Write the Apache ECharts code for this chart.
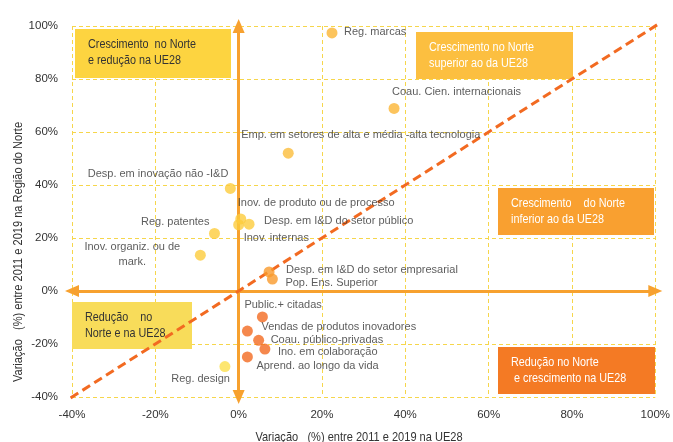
<!DOCTYPE html>
<html>
<head>
<meta charset="utf-8">
<script src="https://cdn.jsdelivr.net/npm/echarts@6/dist/echarts.min.js"></script>
<style>
  html, body { margin: 0; padding: 0; background: #fff; }
  #main { width: 673px; height: 442px; }
</style>
</head>
<body>
<div id="main"></div>
<script>
// dados (variação % 2011-2019)
const names = [
  'Reg. marcas', 'Coau. Cien. internacionais', 'Emp. em setores de alta e média -alta tecnologia',
  'Desp. em inovação não -I&D', 'Inov. de produto ou de processo', 'Inov. internas',
  'Desp. em I&D do setor público', 'Reg. patentes', 'Inov. organiz. ou de\nmark.',
  'Desp. em I&D do setor empresarial', 'Pop. Ens. Superior', 'Public.+ citadas',
  'Vendas de produtos inovadores', 'Coau. público-privadas', 'Ino. em colaboração',
  'Aprend. ao longo da vida', 'Reg. design'
];
const ue28 = [22.4, 37.3, 11.9, -2.0, 0.5, 0.0, 2.5, -5.8, -9.2, 7.3, 8.1, 5.7, 2.1, 4.8, 6.3, 2.1, -3.3];
const norte = [97.4, 68.9, 52.0, 38.7, 27.2, 25.0, 25.2, 21.7, 13.5, 7.2, 4.5, -9.8, -15.1, -18.6, -21.9, -24.9, -28.5];
const xTicks = [-40, -20, 0, 20, 40, 60, 80, 100];
const yTicks = [-40, -20, 0, 20, 40, 60, 80, 100];
const diagonal = [-46, 103];

// estilo de cada ponto
const cores = ['#fbb535', '#fbb535', '#fbbd3b', '#fdcc3c', '#fdcc3c', '#fdcc3c', '#fdcc3c', '#fdcc3c', '#fdcc3c',
  '#f99a2c', '#f99a2c', '#f26a21', '#f26a21', '#f26a21', '#f26a21', '#f26a21', '#fde04c'];
// [dx, dy, align] do rótulo em relação ao ponto
const rotulos = [
  [12, -1, 'left'], [-2, -16, 'left'], [-47, -18, 'left'], [-2, -14, 'right'], [-3, -16, 'left'],
  [5, 13, 'left'], [15, -3, 'left'], [-5, -12, 'right'], [-68, -1, 'center'], [17, -2, 'left'],
  [13, 4, 'left'], [-18, -12, 'left'], [14, -4, 'left'], [12, 0, 'left'], [13, 3, 'left'],
  [9, 9, 'left'], [5, 12, 'right']
];

const fonte = '"Liberation Sans", Arial, sans-serif';
const gridCor = '#f6d64b';

const pontos = names.map((n, i) => ({
  name: n,
  value: [ue28[i], norte[i]],
  itemStyle: { color: cores[i] },
  label: {
    show: true,
    position: 'inside',
    formatter: n,
    align: rotulos[i][2],
    verticalAlign: 'middle',
    offset: [rotulos[i][0], rotulos[i][1]],
    color: '#333',
    fontSize: 11,
    fontFamily: fonte,
    lineHeight: 15
  }
}));

function caixa(x, y, w, h, cor, texto, corTexto) {
  return [
    { type: 'rect', left: x, top: y, shape: { width: w, height: h }, style: { fill: cor }, z: 50 },
    { type: 'text', x: x + 13, y: y + 7, scaleX: 0.8, z: 51,
      style: { text: texto, fill: corTexto, font: '13.5px ' + fonte, lineHeight: 16.5 } }
  ];
}

const chart = echarts.init(document.getElementById('main'));
chart.setOption({
  animation: false,
  grid: { left: 72, right: 15, top: 26, bottom: 45 },
  xAxis: {
    type: 'value', min: xTicks[0], max: xTicks[xTicks.length - 1], interval: 20,
    axisLine: { show: false }, axisTick: { show: false },
    axisLabel: { formatter: '{value}%', color: '#333', fontSize: 11.5, fontFamily: fonte, margin: 12 },
    splitLine: { show: true, lineStyle: { color: gridCor, type: [4, 3], width: 1 } }
  },
  yAxis: {
    type: 'value', min: yTicks[0], max: yTicks[yTicks.length - 1], interval: 20,
    axisLine: { show: false }, axisTick: { show: false },
    axisLabel: { formatter: '{value}%', color: '#333', fontSize: 11.5, fontFamily: fonte, margin: 14 },
    splitLine: { show: true, lineStyle: { color: gridCor, type: [4, 3], width: 1 } }
  },
  graphic: [].concat(
    caixa(75, 29, 156, 49, '#fdd440', 'Crescimento  no Norte\ne redução na UE28', '#333'),
    caixa(416, 32, 157, 47, '#fcbf40', 'Crescimento no Norte\nsuperior ao da UE28', '#fff'),
    caixa(498, 188, 156, 47, '#f9a030', 'Crescimento    do Norte\ninferior ao da UE28', '#fff'),
    caixa(72, 302, 120, 47, '#f8dc5a', 'Redução    no\nNorte e na UE28', '#333'),
    caixa(498, 347, 157, 47, '#f47a24', 'Redução no Norte\n e crescimento na UE28', '#fff'),
    [
      { type: 'text', x: 359, y: 437, scaleX: 0.85, z: 51,
        style: { text: 'Variação   (%) entre 2011 e 2019 na UE28', fill: '#333', font: '13px ' + fonte,
          textAlign: 'center', textVerticalAlign: 'middle' } },
      { type: 'text', x: 18, y: 252, rotation: Math.PI / 2, scaleX: 0.85, z: 51,
        style: { text: 'Variação   (%) entre 2011 e 2019 na Região do Norte', fill: '#333', font: '13px ' + fonte,
          textAlign: 'center', textVerticalAlign: 'middle' } }
    ]
  ),
  series: [
    {
      type: 'line', data: [], silent: true,
      markLine: {
        silent: true, symbol: ['triangle', 'triangle'], symbolSize: [12, 14],
        label: { show: false },
        lineStyle: { color: '#f7a12f', width: 3, type: 'solid' },
        data: [
          [{ coord: [0, yTicks[0]] }, { coord: [0, yTicks[yTicks.length - 1]] }],
          [{ coord: [xTicks[0], 0] }, { coord: [xTicks[xTicks.length - 1], 0] }]
        ]
      }
    },
    {
      type: 'line', clip: false, silent: true, symbol: 'none', z: 60,
      data: [[diagonal[0], diagonal[0]], [diagonal[1], diagonal[1]]],
      lineStyle: { color: '#f26a21', width: 3, type: [9, 5] }
    },
    {
      type: 'scatter', symbolSize: 11, z: 70,
      data: pontos
    }
  ]
});
</script>
</body>
</html>
